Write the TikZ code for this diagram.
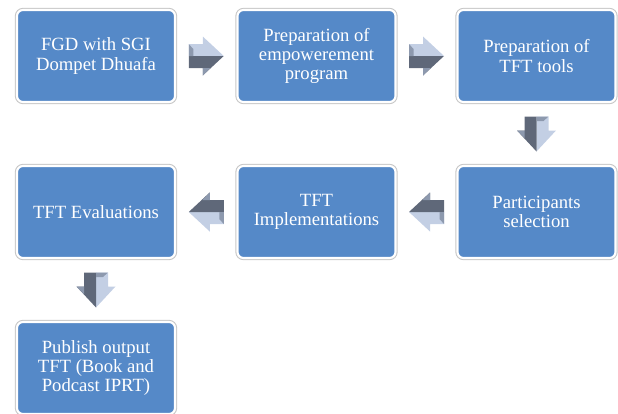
\documentclass[tikz,border=0pt]{standalone}
\usepackage{fontspec}
\setmainfont{Liberation Serif}
\usetikzlibrary{calc}
\definecolor{boxblue}{HTML}{5589C8}
\definecolor{arrlight}{HTML}{C3CFE4}
\definecolor{arrdark}{HTML}{5F6879}
\definecolor{arrmid}{HTML}{8D99AE}
\tikzset{
  stepbox/.style={draw=white, line width=1.6pt, fill=boxblue, rounded corners=4.5pt,
    preaction={draw=black!22, line width=3.2pt},
    minimum width=118.5pt, minimum height=69pt, align=center,
    text=white, font=\fontsize{14pt}{14.4pt}\selectfont, inner sep=0pt},
  blockarrow/.pic={
    \fill[arrlight] (-17.5,0) -- (-17.5,-12) -- (-3.5,-12) -- (-3.5,-19.5) -- (17.5,0) -- cycle;
    \fill[arrdark] (-17.5,0) -- (-17.5,12) -- (-3.5,12) -- (-3.5,19.5) -- (17.5,0) -- cycle;
    \fill[arrmid] (-17.5,0) -- (-17.5,-12) -- (-13,-7) -- (-13,0) -- cycle;
    \fill[arrmid] (-3.5,12) -- (-3.5,19.5) -- (4,12) -- cycle;
  }
}
\begin{document}
\begin{tikzpicture}[x=0.75pt, y=-0.75pt]
\useasboundingbox (0,0) rectangle (618,414);
\node[stepbox] (b1) at (96,56) {FGD with SGI\\Dompet Dhuafa};
\node[stepbox] (b2) at (316.5,56) {Preparation of\\empowerement\\program};
\node[stepbox] (b3) at (536.5,56) {Preparation of\\TFT tools};
\node[stepbox] (b6) at (536.5,212) {Participants\\selection};
\node[stepbox] (b5) at (316.5,212) {TFT\\Implementations};
\node[stepbox] (b4) at (96,212) {TFT Evaluations};
\node[stepbox] (b7) at (96,368) {Publish output\\TFT (Book and\\Podcast IPRT)};
\path ($(b1.east)!0.5!(b2.west)$) pic {blockarrow};
\path ($(b2.east)!0.5!(b3.west)$) pic {blockarrow};
\path ($(b3.south)!0.5!(b6.north)$) pic[rotate=-90] {blockarrow};
\path ($(b6.west)!0.5!(b5.east)$) pic[rotate=180] {blockarrow};
\path ($(b5.west)!0.5!(b4.east)$) pic[rotate=180] {blockarrow};
\path ($(b4.south)!0.5!(b7.north)$) pic[rotate=-90] {blockarrow};
\end{tikzpicture}
\end{document}
